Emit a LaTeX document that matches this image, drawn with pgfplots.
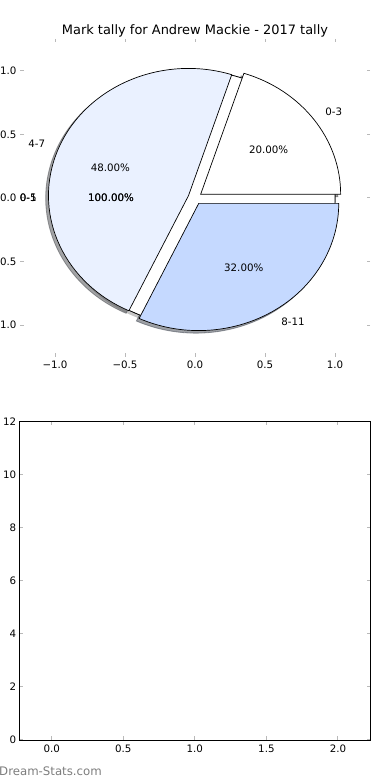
\documentclass[border=0pt]{standalone}
\usepackage{fontspec}
\setmainfont{DejaVu Sans}
\usepackage{pgfplots}
\pgfplotsset{compat=1.18}
\definecolor{cA}{RGB}{255,255,255}
\definecolor{cB}{RGB}{234,241,255}
\definecolor{cC}{RGB}{197,217,255}
\definecolor{tickgrey}{RGB}{185,185,185}
\definecolor{wm}{RGB}{125,125,125}
% pie data (percent of marks)
\def\pA{20}\def\pB{48}\def\pC{32}
\def\ux{140bp}\def\uy{127.2bp}
\begin{document}
\begin{tikzpicture}[x=1bp,y=1bp]
\pgfmathsetmacro\aA{3.6*\pA}
\pgfmathsetmacro\aB{\aA+3.6*\pB}
\pgfmathsetmacro\aC{\aB+3.6*\pC}
\pgfmathsetmacro\mA{\aA/2}
\pgfmathsetmacro\mB{(\aA+\aB)/2}
\pgfmathsetmacro\mC{(\aB+\aC)/2}
\pgfmathsetmacro\cxA{0.05*cos(\mA)}\pgfmathsetmacro\cyA{0.05*sin(\mA)}
\pgfmathsetmacro\cxB{0.05*cos(\mB)}\pgfmathsetmacro\cyB{0.05*sin(\mB)}
\pgfmathsetmacro\cxC{0.05*cos(\mC)}\pgfmathsetmacro\cyC{0.05*sin(\mC)}
\pgfmathsetmacro\sxA{\cxA-0.02}\pgfmathsetmacro\syA{\cyA-0.02}
\pgfmathsetmacro\sxB{\cxB-0.02}\pgfmathsetmacro\syB{\cyB-0.02}
\pgfmathsetmacro\sxC{\cxC-0.02}\pgfmathsetmacro\syC{\cyC-0.02}
\begin{axis}[
  at={(20bp,423bp)}, anchor=south west,
  width=350bp, height=318bp, scale only axis,
  xmin=-1.25, xmax=1.25, ymin=-1.25, ymax=1.25,
  clip=false,
  axis line style={draw=none},
  xtick={-1,-0.5,0,0.5,1},
  xticklabels={−1.0,−0.5,0.0,0.5,1.0},
  ytick={-1,-0.5,0,0.5,1},
  yticklabels={−1.0,−0.5,0.0,0.5,1.0},
  tick align=inside,
  major tick length=3.5bp,
  tick style={draw=tickgrey, line width=1bp},
  ticklabel style={font=\fontsize{10.3}{12}\selectfont},
]
% shadows
\fill[black!30, opacity=0.5] (axis cs:-0.02,-0.02) ellipse[x radius=\ux, y radius=\uy];
\fill[black!30, opacity=0.5] (axis cs:-0.02,-0.02) ellipse[x radius=\ux, y radius=\uy];
\filldraw[draw=cA!30!black, fill=cA!30!black, opacity=0.5, line width=0.8bp] (axis cs:\sxA,\syA) -- (axis cs:{\sxA+cos(0)},{\syA+sin(0)}) arc[start angle=0, end angle=\aA, x radius=\ux, y radius=\uy] -- cycle;
\filldraw[draw=cB!30!black, fill=cB!30!black, opacity=0.5, line width=0.8bp] (axis cs:\sxB,\syB) -- (axis cs:{\sxB+cos(\aA)},{\syB+sin(\aA)}) arc[start angle=\aA, end angle=\aB, x radius=\ux, y radius=\uy] -- cycle;
\filldraw[draw=cC!30!black, fill=cC!30!black, opacity=0.5, line width=0.8bp] (axis cs:\sxC,\syC) -- (axis cs:{\sxC+cos(\aB)},{\syC+sin(\aB)}) arc[start angle=\aB, end angle=\aC, x radius=\ux, y radius=\uy] -- cycle;
% 100% pies
\filldraw[fill=white, draw=black, line width=0.7bp] (axis cs:0,0) ellipse[x radius=\ux, y radius=\uy];
\filldraw[fill=white, draw=black, line width=0.7bp] (axis cs:0,0) ellipse[x radius=\ux, y radius=\uy];
% wedges
\filldraw[fill=cA, draw=black, line width=0.7bp] (axis cs:\cxA,\cyA) -- (axis cs:{\cxA+cos(0)},{\cyA+sin(0)}) arc[start angle=0, end angle=\aA, x radius=\ux, y radius=\uy] -- cycle;
\filldraw[fill=cB, draw=black, line width=0.7bp] (axis cs:\cxB,\cyB) -- (axis cs:{\cxB+cos(\aA)},{\cyB+sin(\aA)}) arc[start angle=\aA, end angle=\aB, x radius=\ux, y radius=\uy] -- cycle;
\filldraw[fill=cC, draw=black, line width=0.7bp] (axis cs:\cxC,\cyC) -- (axis cs:{\cxC+cos(\aB)},{\cyC+sin(\aB)}) arc[start angle=\aB, end angle=\aC, x radius=\ux, y radius=\uy] -- cycle;
% labels
\begin{scope}[every node/.style={font=\fontsize{10.3}{12}\selectfont, inner sep=0pt}]
\node[anchor=west] at (axis cs:{\cxA+1.1*cos(\mA)},{\cyA+1.1*sin(\mA)}) {0-3};
\node at (axis cs:{\cxA+0.6*cos(\mA)},{\cyA+0.6*sin(\mA)}) {20.00\%};
\node[anchor=east] at (axis cs:{\cxB+1.1*cos(\mB)},{\cyB+1.1*sin(\mB)}) {4-7};
\node at (axis cs:{\cxB+0.6*cos(\mB)},{\cyB+0.6*sin(\mB)}) {48.00\%};
\node[anchor=west] at (axis cs:{\cxC+1.1*cos(\mC)},{\cyC+1.1*sin(\mC)}) {8-11};
\node at (axis cs:{\cxC+0.6*cos(\mC)},{\cyC+0.6*sin(\mC)}) {32.00\%};
\node[anchor=east] at (axis cs:-1.13,0) {0-1};
\node[anchor=east] at (axis cs:-1.13,0) {0-5};
\node at (axis cs:-0.6,0) {100.00\%};
\node at (axis cs:-0.6,0) {100.00\%};
\node[anchor=base, font=\fontsize{13}{15}\selectfont] at (rel axis cs:0.5,1) [yshift=4.5bp] {Mark tally for Andrew Mackie - 2017 tally};
\end{scope}
\end{axis}
\begin{axis}[
  at={(19.6bp,40bp)}, anchor=south west,
  width=350.5bp, height=318.5bp, scale only axis,
  xmin=-0.225, xmax=2.225, ymin=0, ymax=12,
  axis line style={draw=black, line width=0.9bp},
  xtick={0,0.5,1,1.5,2},
  xticklabels={0.0,0.5,1.0,1.5,2.0},
  ytick={0,2,4,6,8,10,12},
  yticklabels={0,2,4,6,8,10,12},
  tick align=inside,
  major tick length=3.5bp,
  tick style={draw=tickgrey, line width=1bp},
  ticklabel style={font=\fontsize{10.3}{12}\selectfont},
  xticklabel style={yshift=-1.5bp},
]
\end{axis}
\node[anchor=base west, text=wm, inner sep=0pt, font=\fontsize{11.8}{14}\selectfont] at (-1bp,4.3bp) {Dream-Stats.com};
\pgfresetboundingbox
\path (0,0) rectangle (390bp,780bp);
\end{tikzpicture}
\end{document}
